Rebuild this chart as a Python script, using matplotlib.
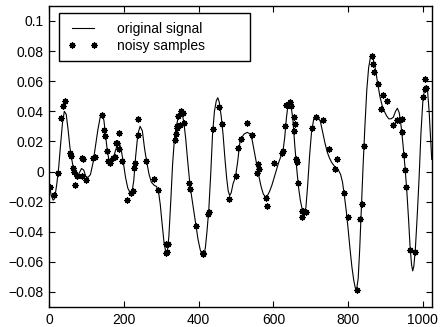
import matplotlib
matplotlib.use("Agg")
import matplotlib.pyplot as plt
from matplotlib.ticker import FixedLocator, FixedFormatter

plt.rcParams['font.family'] = ['Liberation Sans', 'DejaVu Sans']
plt.rcParams['font.size'] = 10

#-----------------DATA---------------------#
# original signal
sig_x = [0, 5, 10, 14, 20, 25, 30, 35, 40, 45, 50, 55, 60, 65, 70, 75, 80, 86, 92, 97,
         103, 110, 117, 123, 130, 136, 141, 146, 150, 155, 160, 165, 170, 176, 182, 187, 192, 198,
         204, 210, 216, 221, 226, 231, 237, 243, 249, 255, 261, 267, 273, 280, 287, 292, 297,
         302, 307, 312, 316, 320, 325, 330, 335, 340, 345, 350, 355, 360, 365, 370, 375, 380,
         386, 392, 398, 404, 410, 414, 418, 422, 427, 432, 437, 442, 447, 451, 455, 460, 465,
         470, 475, 479, 483, 487, 492, 498, 504, 510, 516, 522, 530, 537, 543, 549, 555, 561,
         567, 573, 579, 584, 590, 596, 602, 608, 614, 620, 626, 630, 635, 640, 643, 647, 652,
         657, 662, 667, 672, 677, 682, 687, 692, 697, 702, 708, 714, 720, 726, 732, 738, 744,
         750, 756, 762, 768, 774, 780, 785, 790, 795, 800, 805, 810, 815, 819, 823, 827, 831,
         835, 840, 845, 850, 855, 860, 864, 868, 873, 879, 885, 891, 897, 903, 909, 915, 921,
         927, 932, 937, 942, 947, 952, 957, 962, 966, 970, 973, 976, 980, 985, 990, 995, 1000,
         1005, 1009, 1013, 1017, 1021, 1024]
sig_y = [-0.009, -0.016, -0.019, -0.018, -0.008, 0.003, 0.018, 0.032, 0.040, 0.038, 0.028,
         0.016, 0.008, 0.001, -0.003, -0.003, -0.001, 0.002, 0.001, -0.003,
         -0.004, -0.002, 0.006, 0.016, 0.028, 0.036, 0.038, 0.034, 0.025, 0.014, 0.007, 0.006,
         0.008, 0.013, 0.018, 0.019, 0.015, 0.006,
         -0.004, -0.011, -0.014, -0.014, -0.006, 0.010, 0.025, 0.030, 0.027, 0.015, 0.006,
         -0.002, -0.007, -0.009, -0.010, -0.013, -0.022,
         -0.035, -0.047, -0.054, -0.053, -0.043, -0.020, 0.005, 0.022, 0.030, 0.036, 0.040,
         0.039, 0.033, 0.022, 0.008, -0.005, -0.015,
         -0.025, -0.035, -0.045, -0.052, -0.056, -0.056, -0.050, -0.040, -0.025, -0.002, 0.025,
         0.040, 0.047, 0.049, 0.046, 0.037, 0.025,
         0.009, -0.005, -0.013, -0.016, -0.014, -0.008, -0.004, 0.006, 0.019, 0.023, 0.025,
         0.026, 0.025, 0.021, 0.013, 0.005, -0.003,
         -0.010, -0.015, -0.017, -0.016, -0.013, -0.009, -0.004, 0.001, 0.006, 0.010, 0.0145,
         0.022, 0.036, 0.046, 0.047, 0.044, 0.035,
         0.018, 0.003, -0.010, -0.019, -0.025, -0.027, -0.024, -0.008, 0.011, 0.026, 0.035,
         0.037, 0.036, 0.033, 0.026, 0.019, 0.013,
         0.009, 0.006, 0.004, 0.002, 0.001, -0.002, -0.007, -0.016, -0.026, -0.038, -0.051,
         -0.063, -0.072, -0.077, -0.078, -0.071, -0.052,
         -0.027, 0.003, 0.030, 0.054, 0.069, 0.076, 0.077, 0.074, 0.068, 0.059, 0.050, 0.044,
         0.040, 0.037, 0.035, 0.035, 0.036,
         0.040, 0.042, 0.039, 0.030, 0.018, 0.004, -0.012, -0.032, -0.050, -0.062, -0.066,
         -0.063, -0.052, -0.030, -0.005, 0.025, 0.046,
         0.055, 0.057, 0.053, 0.040, 0.022, 0.008]

# noisy samples
smp_x = [2, 13.5, 24, 31, 36, 42, 55, 57, 64, 66, 68, 73, 87, 89, 88, 98, 118, 122,
         142, 146, 150, 155, 158, 162.5, 170, 176, 178.5, 182, 187, 187.5, 194, 207, 219, 223,
         228, 227, 236, 238, 258, 281, 292, 311.5, 317, 311.5, 316,
         336, 338, 341, 343, 345, 350, 352.5, 357, 360.5, 375, 377, 393, 410.5, 412, 426, 428,
         437, 454, 463, 482, 500, 506, 513, 530, 542, 557, 559.5, 562, 580, 582, 601.5, 623,
         625, 631, 634, 640, 644, 646, 655, 658, 655, 660, 664, 667, 677, 677,
         680, 687, 704, 713, 734, 750, 769, 765, 789, 799, 823, 832, 836, 843.5, 865, 867.5,
         870, 881, 894, 887, 903, 921, 932, 937, 943.5, 943.5, 950.5, 953, 955, 966, 979,
         1001, 1005, 1006, 1008.5]
smp_y = [-0.0104, -0.0156, -0.0007, 0.0356, 0.0438, 0.0467, 0.0122, 0.0104, 0.0022, 0.0,
         -0.0089, -0.0033, 0.0089, 0.0082, -0.0033, -0.0056, 0.0089, 0.0096,
         0.0378, 0.0278, 0.0238, 0.0138, 0.0067, 0.0056, 0.0089, 0.0096, 0.0189, 0.0189, 0.0256,
         0.0149, 0.0067, -0.0189, -0.014, -0.0127,
         0.0056, 0.0022, 0.0244, 0.0349, 0.0067, -0.0051, -0.0122, -0.0478, -0.0482, -0.0544,
         -0.0533,
         0.0211, 0.0251, 0.0289, 0.030, 0.0371, 0.0311, 0.040, 0.0389, 0.0322, -0.0073, -0.0118,
         -0.0362, -0.054, -0.0545, -0.0282, -0.0267,
         0.0282, 0.0429, 0.0316, -0.0184, -0.0029, 0.0156, 0.0216, 0.0322, 0.0242, -0.0007,
         0.0051, 0.0016, -0.0178, -0.0227, 0.0056, 0.0122,
         0.0136, 0.030, 0.0444, 0.0444, 0.046, 0.0433, 0.0362, 0.0316, 0.0267, 0.0082, 0.0062,
         -0.0073, -0.026, -0.0304,
         -0.026, -0.0267, 0.0289, 0.036, 0.034, 0.0151, 0.0084, 0.0018, -0.0144, -0.0304,
         -0.0784, -0.0316, -0.0213, 0.0171, 0.0767, 0.0716,
         0.066, 0.0584, 0.0511, 0.0418, 0.0467, 0.0311, 0.034, 0.0345, 0.0349, 0.026, 0.0107,
         0.0011, -0.010, -0.0518, -0.0536,
         0.0493, 0.0616, 0.0549, 0.0556]

x_ticks = [0, 200, 400, 600, 800, 1000]
y_ticks = [-0.08, -0.06, -0.04, -0.02, 0, 0.02, 0.04, 0.06, 0.08, 0.1]
y_labels = ['\u22120.08', '\u22120.06', '\u22120.04', '\u22120.02', '0',
            '0.02', '0.04', '0.06', '0.08', '0.1']

#-----------------PLOT---------------------#
fig = plt.figure(figsize=(4.41, 3.27), dpi=100)
ax = fig.add_axes([0.112, 0.061, 0.867, 0.921])

ax.plot(sig_x, sig_y, color='k', lw=0.8, label='original signal')
ax.plot(smp_x, smp_y, ls='none', marker=(8, 2, 0), ms=4.5, mew=0.9,
        color='k', label='noisy samples')

ax.set_xlim(0, 1024)
ax.set_ylim(-0.09, 0.11)
ax.xaxis.set_major_locator(FixedLocator(x_ticks))
ax.yaxis.set_major_locator(FixedLocator(y_ticks))
ax.yaxis.set_major_formatter(FixedFormatter(y_labels))
ax.tick_params(direction='in', length=4, width=0.8, top=True, right=True,
               labelsize=10, pad=4)
for s in ax.spines.values():
    s.set_linewidth(1.0)

# legend box stretched to the width seen in the reference
leg = ax.legend(loc='upper left', bbox_to_anchor=(0.026, 0.976, 0.499, 0.0),
                mode='expand', borderaxespad=0,
                fancybox=False, edgecolor='k', framealpha=1, numpoints=2,
                handlelength=2.2, handletextpad=1.3, labelspacing=0.19,
                borderpad=0.63, fontsize=10)
leg.get_frame().set_linewidth(1.0)

fig.savefig('out.png', dpi=100)
